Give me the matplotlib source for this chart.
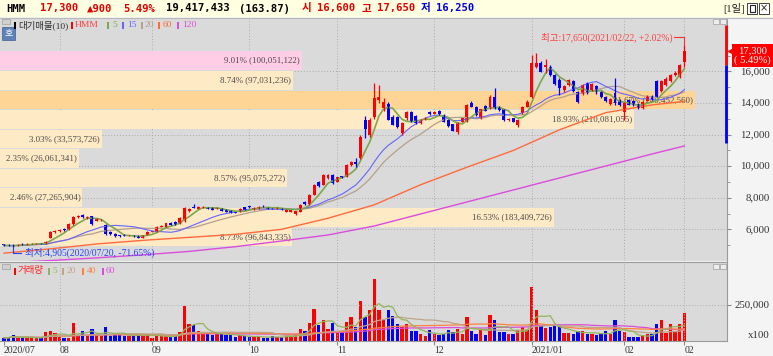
import numpy as np
import pandas as pd
import matplotlib
matplotlib.use("Agg")
import matplotlib.pyplot as plt
from matplotlib.patches import Rectangle
from matplotlib.lines import Line2D
from matplotlib.transforms import blended_transform_factory

plt.rcParams['font.family'] = ['Liberation Serif', 'Noto Sans CJK KR', 'DejaVu Sans']

W, H = 773, 356

# daily candles, 2020/07/16 .. 2021/02/22 (148 trading days)
opens = [5050, 5000, 4990, 4960, 5090, 5040, 5060, 5070, 5130, 5090,
         5450, 5800, 5880, 6000, 5960, 6340, 6750, 6920, 6700, 6820,
         6550, 6560, 6300, 5860, 5700, 5620, 5620, 5580, 5620, 5600,
         5450, 5640, 5840, 5850, 6150, 6170, 6430, 6460, 6390, 6500,
         7150, 7420, 7300, 7380, 7390, 7350, 7300, 7350, 7250, 7170,
         7090, 7100, 7400, 7450, 7250, 7300, 7500, 7400, 7350, 7280,
         7330, 7100, 7120, 7000, 7120, 7700, 7590, 8180, 9000, 8810,
         9250, 9440, 9020, 9360, 9340, 10070, 10280, 10500, 12920, 11950,
         13130, 14200, 13660, 13940, 13130, 13100, 12080, 13030, 13450, 13180,
         12750, 12950, 13450, 13320, 13500, 13240, 12920, 12650, 12180, 12820,
         12820, 14020, 13770, 13030, 13810, 13660, 14400, 13770, 13600, 12900,
         13030, 12610, 13350, 13770, 14400, 16300, 16510, 16250, 16300, 15770,
         15450, 14820, 15150, 15400, 14700, 14560, 15250, 14820, 15100, 14720,
         14400, 13950, 14610, 14200, 13450, 14190, 14150, 13950, 13700, 14150,
         14420, 15400, 14750, 15150, 15400, 15750, 15660, 16600]
highs = [5090, 5040, 5060, 5060, 5120, 5110, 5110, 5120, 5150, 5230,
         5880, 5950, 5990, 6080, 6380, 6850, 6900, 6980, 6850, 6860,
         6720, 6680, 6320, 5900, 5760, 5650, 5680, 5650, 5660, 5620,
         5660, 5880, 5900, 6200, 6300, 6420, 6480, 6500, 6760, 7400,
         7350, 7600, 7450, 7460, 7430, 7390, 7420, 7380, 7280, 7200,
         7120, 7330, 7440, 7500, 7420, 7450, 7560, 7430, 7380, 7400,
         7360, 7280, 7230, 7180, 7580, 7800, 8220, 8850, 9050, 9480,
         9480, 9480, 9320, 9400, 10150, 10350, 10500, 11950, 13200, 13050,
         15290, 15140, 14300, 14050, 13250, 13150, 12780, 13500, 13520, 13250,
         12980, 13100, 13520, 13520, 13560, 13280, 12960, 12700, 12800, 13080,
         13950, 14100, 13820, 13650, 13860, 14500, 14930, 13820, 13650, 13080,
         13080, 12960, 13800, 14200, 17040, 17150, 16650, 16800, 16400, 15850,
         15560, 15150, 15520, 15450, 14750, 15200, 15300, 15250, 15150, 14780,
         14450, 14320, 15560, 14250, 14080, 14250, 14200, 14000, 14100, 14500,
         14480, 15450, 15450, 15650, 15850, 16000, 16450, 17650]
lows = [4960, 4940, 4905, 4940, 5010, 5020, 5040, 5050, 5060, 5070,
        5420, 5760, 5850, 5920, 5940, 6300, 6700, 6720, 6660, 6300,
        6500, 6520, 5650, 5650, 5500, 5540, 5560, 5550, 5540, 5420,
        5430, 5620, 5800, 5830, 6120, 6150, 6250, 6300, 6360, 6480,
        7100, 7340, 7260, 7340, 7280, 7220, 7270, 7140, 7080, 7030,
        7020, 7080, 7230, 7380, 7230, 7280, 7430, 7260, 7290, 7260,
        7210, 7080, 7100, 6900, 7100, 7560, 7560, 8150, 8680, 8780,
        9200, 8880, 8980, 9230, 9300, 10020, 9950, 10450, 11780, 11870,
        13000, 14000, 13500, 12900, 12580, 12400, 12000, 12950, 12780, 12680,
        12700, 12900, 13250, 13280, 13260, 12780, 12500, 12200, 12050, 12780,
        12800, 13740, 13200, 12980, 13480, 13620, 13620, 13520, 12880, 12850,
        12780, 12500, 13300, 13720, 14300, 16200, 15950, 15900, 15700, 15140,
        14500, 14700, 15050, 14720, 13980, 14500, 14600, 14760, 14600, 14300,
        14050, 13900, 13900, 13800, 12920, 13850, 13800, 13650, 13650, 14100,
        14180, 14350, 14700, 15100, 15350, 15700, 15600, 16250]
closes = [4980, 4960, 4950, 5030, 5040, 5080, 5090, 5100, 5090, 5200,
          5830, 5900, 5950, 5960, 6340, 6780, 6850, 6760, 6800, 6350,
          6650, 6610, 5700, 5700, 5560, 5570, 5580, 5610, 5570, 5450,
          5640, 5850, 5870, 6170, 6220, 6400, 6280, 6330, 6740, 7350,
          7300, 7380, 7400, 7420, 7310, 7250, 7380, 7170, 7100, 7050,
          7040, 7300, 7250, 7400, 7380, 7400, 7460, 7280, 7310, 7380,
          7230, 7250, 7200, 7150, 7540, 7580, 8180, 8810, 8720, 9440,
          9440, 8920, 9300, 9250, 10070, 10280, 10150, 11870, 12350, 12950,
          14300, 14400, 14080, 12920, 12610, 12500, 12710, 13450, 12820, 12710,
          12920, 13050, 13300, 13450, 13300, 12820, 12540, 12230, 12750, 13030,
          13870, 13770, 13240, 13600, 13510, 14360, 13660, 13560, 12920, 13000,
          12820, 12920, 13770, 14080, 16510, 16510, 15980, 16400, 15770, 15200,
          14930, 15080, 15450, 14760, 14050, 15140, 14640, 15200, 14680, 14350,
          14100, 14260, 13980, 13850, 14020, 13900, 13850, 13680, 14050, 14450,
          14220, 14400, 15400, 15500, 15770, 15900, 16400, 17300]
# volume in units of 100 shares
volumes = [23100, 23100, 41700, 23100, 23100, 23100, 23100, 18500, 23100, 62500,
           67100, 53200, 32400, 23100, 23100, 125000, 39400, 67100, 39400, 81000,
           39400, 32400, 97200, 32400, 57900, 50900, 32400, 32400, 32400, 50900,
           46300, 46300, 23100, 32400, 32400, 32400, 32400, 32400, 60200, 240800,
           120400, 113400, 69500, 60200, 50900, 39400, 50900, 57900, 39400, 39400,
           27800, 39400, 32400, 27800, 27800, 32400, 23100, 23100, 32400, 27800,
           27800, 39400, 27800, 39400, 85700, 67100, 125000, 224600, 113400, 148200,
           85700, 125000, 62500, 67100, 132000, 166700, 97200, 275500, 166700, 213000,
           432900, 213000, 143500, 213000, 171300, 120400, 97200, 120400, 67100, 69500,
           46300, 32400, 74100, 50900, 39400, 46300, 74100, 62500, 85700, 50900,
           166700, 67100, 50900, 74100, 39400, 178300, 143500, 62500, 62500, 50900,
           50900, 74100, 97200, 74100, 375000, 213000, 101900, 92600, 97200, 106500,
           97200, 55600, 55600, 46300, 69500, 69500, 46300, 50900, 44000, 46300,
           67100, 50900, 148200, 67100, 62500, 27800, 27800, 27800, 39400, 46300,
           46300, 115800, 143500, 55600, 120400, 62500, 120400, 194174]

# 60 / 120 day averages (they need history before the window)
ma_long_idx = [0, 10, 20, 30, 40, 50, 60, 70, 80, 90, 100, 110, 120, 130, 140, 147]
ma60_vals = [4490, 4760, 5070, 5300, 5490, 5680, 6000, 6700, 7550, 8820,
             9930, 10990, 12300, 13390, 13880, 14100]
ma120_vals = [3870, 4020, 4190, 4380, 4600, 4900, 5260, 5640, 6210, 6970,
              7730, 8490, 9250, 10010, 10770, 11280]

month_idx = [0, 12, 32, 53, 72, 93, 114, 134, 147]
month_labels = ["2020/07", "08", "09", "10", "11", "12", "2021/01", "02", "02"]

# 대기매물 bands, bottom to top
band_pct = [8.73, 16.53, 2.46, 8.57, 2.35, 3.03, 18.93, 21.67, 8.74, 9.01]
band_vol = [96843335, 183409726, 27265904, 95075272, 26061341,
            33573726, 210081055, 240452560, 97031236, 100051122]

price_ticks = [6000, 8000, 10000, 12000, 14000, 16000]
prev_close = 16400
lower_limit = 11480
ruler_top = 18930

RED = '#FF0000'
BLUE = '#0000FF'
GRAY = '#DADADA'
GRID = '#ABABAB'
C_MA5 = '#7DA84A'
C_MA15 = '#6464FF'
C_MA20 = '#B4A08C'
C_MA60 = '#FF6A3C'
C_MA120 = '#DC4CDC'
C_MA40 = '#FF8040'


def fx(x):
    return x / W


def fy(y):
    return 1 - y / H


def rect_px(x0, y0, x1, y1):
    return [fx(x0), fy(y1), (x1 - x0) / W, (y1 - y0) / H]


def fig_rect(x0, y0, x1, y1, **kw):
    fig.add_artist(Rectangle((fx(x0), fy(y1)), (x1 - x0) / W, (y1 - y0) / H,
                             transform=fig.transFigure, **kw))


fig = plt.figure(figsize=(W / 100, H / 100), dpi=100, facecolor='#F4F4F4')

x = np.arange(len(closes))
o = np.array(opens, dtype=float)
hi = np.array(highs, dtype=float)
lo = np.array(lows, dtype=float)
c = np.array(closes, dtype=float)
vol = np.array(volumes, dtype=float)
cols = np.where(c >= o, RED, BLUE)

XMIN, XMAX = -0.86, 156.2
YMIN, YMAX = 3992, 19384
VMAX = 548600

# ---- price panel background + grid ----
ax_bg = fig.add_axes(rect_px(0, 18, 727, 261), facecolor=GRAY)
ax_bg.set_xlim(XMIN, XMAX)
ax_bg.set_ylim(YMIN, YMAX)
for p in price_ticks:
    ax_bg.axhline(p, color=GRID, lw=0.7, ls=(0, (1, 2)))
for m in month_idx[1:]:
    ax_bg.axvline(m, color=GRID, lw=0.7, ls=(0, (1, 2)))
ax_bg.set_xticks([])
ax_bg.yaxis.set_ticks_position('right')
ax_bg.set_yticks(price_ticks)
ax_bg.set_yticks(np.arange(5000, 19000, 2000), minor=True)
ax_bg.tick_params(axis='y', which='major', length=3, color='#8A8A8A', labelright=False)
ax_bg.tick_params(axis='y', which='minor', length=2, color='#8A8A8A', labelright=False)
for s in ['left', 'top', 'bottom']:
    ax_bg.spines[s].set_visible(False)
ax_bg.spines['right'].set_color('#9A9A9A')
ax_bg.set_zorder(0)

# ---- volume profile bands ----
ax_band = fig.add_axes(rect_px(0, 18, 695, 261))
ax_band.patch.set_visible(False)
ax_band.axis('off')
band_xmax = 695 / 33.5
ax_band.set_xlim(0, band_xmax)
ax_band.set_ylim(YMIN, YMAX)
ax_band.set_zorder(1)
band_lo = min(lows)
band_hi = max(closes)
step = (band_hi - band_lo) / len(band_pct)
k_max = int(np.argmax(band_pct))
for k, (pct, bv) in enumerate(zip(band_pct, band_vol)):
    yc = band_lo + (k + 0.5) * step
    if band_lo + k * step <= closes[-1] <= band_lo + (k + 1) * step:
        fc = '#FFCDE5'
    elif k == k_max:
        fc = '#FFD596'
    else:
        fc = '#FFEAC6'
    ax_band.barh(yc, pct, height=step - 60, left=0, color=fc, lw=0)
    ax_band.text(min(pct, band_xmax) - 0.06, yc, f"{pct:.2f}% ({bv:,})",
                 ha='right', va='center', fontsize=6.4, color='#4A4A4A')

# ---- candles and averages ----
ax = fig.add_axes(rect_px(0, 18, 727, 261))
ax.patch.set_visible(False)
ax.axis('off')
ax.set_xlim(XMIN, XMAX)
ax.set_ylim(YMIN, YMAX)
ax.set_zorder(2)

cs = pd.Series(c)
ma5 = cs.rolling(5, min_periods=1).mean()
ma15 = cs.rolling(15, min_periods=1).mean()
ma20 = cs.rolling(20, min_periods=1).mean()

ax.plot(ma_long_idx, ma120_vals, color=C_MA120, lw=1)
ax.plot(ma_long_idx, ma60_vals, color=C_MA60, lw=1)
ax.plot(x, ma20, color=C_MA20, lw=0.9)
ax.plot(x, ma15, color=C_MA15, lw=0.8)
ax.plot(x, ma5, color=C_MA5, lw=1.2)

ax.vlines(x, lo, hi, colors=cols, lw=0.9)
ax.bar(x, np.maximum(np.abs(c - o), 30), bottom=np.minimum(o, c), width=0.64,
       color=cols, lw=0)

# high / low markers
i_hi = int(np.argmax(hi))
i_lo = int(np.argmin(lo))
hi_pct = (hi[i_hi] / c[-1] - 1) * 100
lo_pct = (lo[i_lo] / c[-1] - 1) * 100
ax.plot([i_hi - 2.3, i_hi, i_hi], [18170, 18170, hi[i_hi]], color='#FF3030', lw=0.8)
ax.text(i_hi - 2.5, 18110, f"최고:{int(hi[i_hi]):,}(2021/02/22, +{hi_pct:.2f}%)",
        ha='right', va='center', fontsize=6.9, color='#FF4040')
ax.plot([i_lo, i_lo, i_lo + 1.6], [lo[i_lo], 4470, 4470], color='#2040FF', lw=0.8)
ax.text(i_lo + 2.5, 4500, f"최저:{int(lo[i_lo]):,}(2020/07/20, {lo_pct:.2f}%)",
        ha='left', va='center', fontsize=6.9, color='#2040FF')

# right side: price ruler, tick labels, current price box
trans = blended_transform_factory(ax.transAxes, ax.transData)
ax.plot([725.5 / 727] * 2, [prev_close, ruler_top], color=RED, lw=2,
        transform=trans, clip_on=False, solid_capstyle='butt')
ax.plot([725.5 / 727] * 2, [lower_limit, prev_close], color=BLUE, lw=2,
        transform=trans, clip_on=False, solid_capstyle='butt')
for p in price_ticks:
    ax.text(770 / 727, p, f"{p:,}", transform=trans, ha='right', va='center',
            fontsize=7.8, color='#333333', clip_on=False)
chg_pct = (c[-1] / prev_close - 1) * 100
ax.annotate(f"{int(c[-1]):,}\n( {chg_pct:.2f}%)", xy=(752.5 / 727, c[-1]),
            xycoords=trans, xytext=(0, -3.2), textcoords='offset points',
            ha='center', va='center', fontsize=7.6, color='white', linespacing=1.05,
            bbox=dict(boxstyle='square,pad=0.18', fc=RED, ec='none'),
            annotation_clip=False)
ax.plot([730.5 / 727], [c[-1]], marker='<', ms=4.5, color=RED, transform=trans,
        clip_on=False)

# ---- volume panel ----
ax_vol = fig.add_axes(rect_px(0, 262, 727, 341), facecolor=GRAY)
ax_vol.set_xlim(XMIN, XMAX)
ax_vol.set_ylim(0, VMAX)
ax_vol.axhline(250000, color=GRID, lw=0.7, ls=(0, (1, 2)))
for m in month_idx[1:]:
    ax_vol.axvline(m, color=GRID, lw=0.7, ls=(0, (1, 2)))
ax_vol.bar(x, vol, width=0.72, color=cols, lw=0)
vs = pd.Series(vol)
ax_vol.plot(x, vs.rolling(60, min_periods=1).mean(), color=C_MA120, lw=0.9)
ax_vol.plot(x, vs.rolling(40, min_periods=1).mean(), color=C_MA40, lw=0.9)
ax_vol.plot(x, vs.rolling(20, min_periods=1).mean(), color='#C0A488', lw=0.9)
ax_vol.plot(x, vs.rolling(5, min_periods=1).mean(), color='#94B45C', lw=0.9)
ax_vol.set_xticks(month_idx)
ax_vol.set_xticklabels(month_labels)
for lbl in ax_vol.get_xticklabels():
    lbl.set_ha('left')
ax_vol.tick_params(axis='x', length=3, color='#8A8A8A', pad=0.5, labelsize=7,
                   labelcolor='#333333')
ax_vol.yaxis.set_ticks_position('right')
ax_vol.set_yticks([250000])
ax_vol.tick_params(axis='y', length=3, color='#8A8A8A', labelright=False)
ax_vol.spines['left'].set_visible(False)
for s in ['top', 'right', 'bottom']:
    ax_vol.spines[s].set_color('#9A9A9A')
vtrans = blended_transform_factory(ax_vol.transAxes, ax_vol.transData)
ax_vol.text(770 / 727, 250000, "250,000", transform=vtrans, ha='right', va='center',
            fontsize=7.8, color='#333333', clip_on=False)
ax_vol.text(770 / 727, 0.07, "x100", transform=ax_vol.transAxes, ha='right',
            va='center', fontsize=7.8, color='#333333', clip_on=False)

# ---- header bar ----
fig_rect(0, 0, 773, 17, facecolor='#FFFFE1', edgecolor='none')
fig.add_artist(Line2D([0, 1], [fy(17.5)] * 2, transform=fig.transFigure,
                      color='#B8B8B8', lw=0.8))
mono = ['DejaVu Sans Mono', 'Noto Sans CJK KR']
header = [("HMM", 6, 'black'), ("17,300", 40, '#E00000'), ("▲900", 87, '#E00000'),
          ("5.49%", 123, '#E00000'), ("19,417,433", 166, 'black'),
          ("(163.87)", 239, 'black'),
          ("시", 302, '#E00000'), ("16,600", 317, '#E00000'),
          ("고", 362, '#E00000'), ("17,650", 377, '#E00000'),
          ("저", 421, '#0000E0'), ("16,250", 436, '#0000E0')]
for txt, hx, hc in header:
    fig.text(fx(hx), fy(8.5), txt, family=mono, fontweight='bold', fontsize=7.6,
             color=hc, ha='left', va='center')
fig.text(fx(723), fy(8.5), "[1일]", fontsize=7.5, color='#202020', ha='left', va='center')
fig_rect(747, 3, 757, 14, facecolor='white', edgecolor='#404040', lw=0.7)
fig_rect(749.5, 5.5, 754.5, 11.5, facecolor='none', edgecolor='#202020', lw=0.8)
fig_rect(759, 3, 769, 14, facecolor='white', edgecolor='#404040', lw=0.7)
fig.text(fx(764), fy(8.5), "×", family=['DejaVu Sans'], fontsize=7, color='#202020',
         ha='center', va='center')

# ---- panel decorations / legends ----
fig_rect(2, 18.5, 10, 23.5, facecolor='#D0D0D0', edgecolor='#A0A0A0', lw=0.5)
fig_rect(2, 264, 10, 269, facecolor='#D0D0D0', edgecolor='#A0A0A0', lw=0.5)
fig_rect(2, 27, 15, 40, facecolor='#5E82B8', edgecolor='#3E5F90', lw=0.5)
fig.text(fx(8.5), fy(33.5), "호", color='white', fontsize=6.5, ha='center', va='center')
for yy in (19, 264):
    fig_rect(713, yy, 719, yy + 5, facecolor='#EDEDED', edgecolor='#A0A0A0', lw=0.5)
    fig_rect(720, yy, 726, yy + 5, facecolor='#EDEDED', edgecolor='#A0A0A0', lw=0.5)

price_legend = [("대기매물(10)", '#000000', '#303030', 14.5, 18),
                ("HMM", RED, '#FF3C3C', 72, 75),
                ("5", C_MA5, C_MA5, 108, 112),
                ("15", C_MA15, C_MA15, 123, 127),
                ("20", C_MA20, C_MA20, 142, 145),
                ("60", C_MA60, C_MA60, 159, 163),
                ("120", C_MA120, C_MA120, 178, 182)]
vol_legend = [("거래량", RED, '#FF2020', 14.5, 18),
              ("5", '#94B45C', '#94B45C', 49, 52),
              ("20", '#C0A488', '#C0A488', 63, 67),
              ("40", C_MA40, C_MA40, 83, 87),
              ("60", C_MA120, C_MA120, 103, 106)]
for items, ly in ((price_legend, 25), (vol_legend, 271)):
    for label, mc, tc, mx, tx in items:
        fig_rect(mx - 1, ly - 3.5, mx + 1, ly + 3.5, facecolor=mc, edgecolor='none')
        fig.text(fx(tx), fy(ly), label, fontsize=6.8, color=tc, ha='left', va='center')

fig.savefig('out.png', dpi=100, facecolor=fig.get_facecolor())
